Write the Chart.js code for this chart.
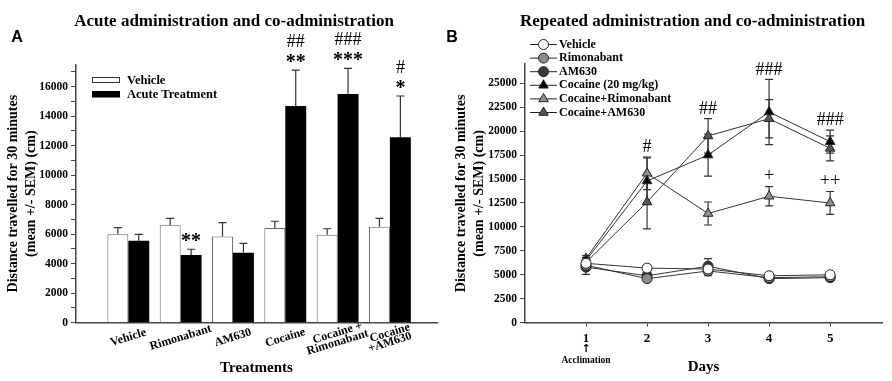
<!DOCTYPE html>
<html>
<head>
<meta charset="utf-8">
<script src="https://cdn.jsdelivr.net/npm/chart.js@4/dist/chart.umd.min.js"></script>
<style>
  body { margin: 0; background: #fff; }
  #wrap { position: relative; width: 892px; height: 381px; }
  .box { position: absolute; top: 0; width: 446px; height: 381px; }
  #boxA { left: 0; }
  #boxB { left: 446px; }
</style>
</head>
<body>
<div id="wrap">
  <div class="box" id="boxA"><canvas id="chartA"></canvas></div>
  <div class="box" id="boxB"><canvas id="chartB"></canvas></div>
</div>
<script>
// Panel A - acute administration (bars)
const treatments = ['Vehicle', 'Rimonabant', 'AM630', 'Cocaine', ['Cocaine +', 'Rimonabant'], ['Cocaine', '+AM630']];
const treatmentPos = [1, 2, 3, 4, 5, 6];
const vehicleMeans = [6000, 6600, 5850, 6420, 5970, 6510];
const vehicleSem = [440, 480, 930, 460, 400, 570];
const acuteMeans = [5560, 4590, 4750, 14690, 15500, 12570];
const acuteSem = [430, 390, 630, 2440, 1750, 2800];
const acuteStars = ['', '**', '', '**', '***', '*'];
const acuteHash = ['', '', '', '##', '###', '#'];
const yTicksA = [0, 1000, 2000, 3000, 4000, 5000, 6000, 7000, 8000, 9000, 10000,
  11000, 12000, 13000, 14000, 15000, 16000, 17000];

// Panel B - repeated administration (lines)
const days = [1, 2, 3, 4, 5];
const seriesNames = ['Vehicle', 'Rimonabant', 'AM630', 'Cocaine (20 mg/kg)', 'Cocaine+Rimonabant', 'Cocaine+AM630'];
const vehicleB = [6200, 5700, 5600, 4900, 5000];
const vehicleBSem = [400, 350, 400, 300, 300];
const rimonabantB = [6000, 4600, 5400, 4700, 4800];
const rimonabantBSem = [400, 300, 500, 300, 300];
const am630B = [5800, 4900, 5900, 4600, 4700];
const am630BSem = [750, 400, 800, 300, 300];
const cocaineB = [6500, 14800, 17500, 22000, 18900];
const cocaineBSem = [300, 2400, 2200, 3400, 1200];
const cocRimB = [6700, 15600, 11400, 13200, 12500];
const cocRimBSem = [300, 1700, 1200, 1000, 1200];
const cocAmB = [6300, 12600, 19500, 21300, 18200];
const cocAmBSem = [300, 2800, 1800, 2000, 1300];
const hashB = ['', '#', '##', '###', '###'];
const plusB = ['', '', '', '+', '++'];
const yTicksB = [0, 2500, 5000, 7500, 10000, 12500, 15000, 17500, 20000, 22500, 25000];

const serif = "'Liberation Serif', 'Times New Roman', serif";
const axisColor = '#444';

// ---------- Panel A ----------
const panelAText = {
  id: 'panelAText',
  afterDatasetsDraw(chart) {
    const ctx = chart.ctx;
    const ys = chart.scales.y;
    ctx.save();
    // error bars (upper only)
    ctx.strokeStyle = '#333';
    ctx.lineWidth = 1.2;
    [vehicleSem, acuteSem].forEach((sem, d) => {
      chart.getDatasetMeta(d).data.forEach((bar, i) => {
        const top = ys.getPixelForValue(chart.data.datasets[d].data[i].y + sem[i]);
        ctx.beginPath();
        ctx.moveTo(bar.x, bar.y);
        ctx.lineTo(bar.x, top);
        ctx.moveTo(bar.x - 4, top);
        ctx.lineTo(bar.x + 4, top);
        ctx.stroke();
      });
    });
    // significance marks
    ctx.fillStyle = '#000';
    ctx.textAlign = 'center';
    chart.getDatasetMeta(1).data.forEach((bar, i) => {
      const top = ys.getPixelForValue(acuteMeans[i] + acuteSem[i]);
      ctx.font = 'bold 20px ' + serif;
      ctx.textBaseline = 'alphabetic';
      ctx.fillText(acuteStars[i], bar.x, top - 12 + 9.5);
      ctx.font = '18px ' + serif;
      ctx.textBaseline = 'middle';
      ctx.fillText(acuteHash[i], bar.x, top - 28);
    });
    ctx.restore();
  },
  afterDraw(chart) {
    const ctx = chart.ctx;
    const xs = chart.scales.x;
    const area = chart.chartArea;
    ctx.save();
    ctx.fillStyle = '#000';
    // rotated category labels centred on each group, lines stacked vertically
    ctx.font = 'bold 12px ' + serif;
    ctx.textAlign = 'center';
    ctx.textBaseline = 'middle';
    treatments.forEach((t, i) => {
      const lines = Array.isArray(t) ? t : [t];
      lines.forEach((ln, k) => {
        ctx.save();
        ctx.translate(xs.getPixelForValue(treatmentPos[i]), area.bottom + 15 + (k - (lines.length - 1) / 2) * 9.5);
        ctx.rotate(-17 * Math.PI / 180);
        ctx.fillText(ln, 0, 0);
        ctx.restore();
      });
    });
    // legend
    const lx = area.left + 16;
    ctx.lineWidth = 1;
    ctx.strokeStyle = '#333';
    ctx.fillStyle = '#fff';
    ctx.fillRect(lx, 77, 28, 6);
    ctx.strokeRect(lx + 0.5, 77.5, 27, 5);
    ctx.fillStyle = '#000';
    ctx.fillRect(lx, 91, 28, 6.5);
    ctx.font = 'bold 12.5px ' + serif;
    ctx.textAlign = 'left';
    ctx.fillText('Vehicle', lx + 35, 80.5);
    ctx.fillText('Acute Treatment', lx + 35, 94.5);
    // title and panel letter
    ctx.font = 'bold 17px ' + serif;
    ctx.textAlign = 'center';
    ctx.fillText('Acute administration and co-administration', 234, 22);
    ctx.font = 'bold 16px "Liberation Sans", Arial, sans-serif';
    ctx.fillText('A', 17, 38);
    ctx.restore();
  }
};

new Chart(document.getElementById('chartA'), {
  type: 'bar',
  data: {
    datasets: [{
      label: 'Vehicle',
      data: vehicleMeans.map((v, i) => ({ x: treatmentPos[i], y: v })),
      backgroundColor: '#fff',
      borderColor: '#666',
      borderWidth: 1,
      borderSkipped: 'bottom'
    }, {
      label: 'Acute Treatment',
      data: acuteMeans.map((v, i) => ({ x: treatmentPos[i], y: v })),
      backgroundColor: '#000',
      borderColor: '#000',
      borderWidth: 0
    }]
  },
  options: {
    responsive: true,
    maintainAspectRatio: false,
    animation: false,
    categoryPercentage: 0.8,
    barPercentage: 1.0,
    layout: { padding: { left: 0, right: 9, top: 64.6, bottom: 0 } },
    plugins: { legend: { display: false }, tooltip: { enabled: false } },
    scales: {
      x: {
        type: 'linear',
        min: 0,
        max: 6.9,
        offset: false,
        afterBuildTicks(scale) { scale.ticks = treatmentPos.map(v => ({ value: v })); },
        ticks: { display: false },
        grid: { display: false, offset: false },
        border: { color: axisColor, width: 1.5 },
        title: {
          display: true,
          text: 'Treatments',
          color: '#000',
          font: { family: serif, size: 15, weight: 'bold' },
          padding: { top: 0, bottom: 4 }
        },
        afterFit(scale) { scale.height = 58.3; }
      },
      y: {
        min: 0,
        max: 17500,
        afterBuildTicks(scale) { scale.ticks = yTicksA.map(v => ({ value: v })); },
        ticks: {
          autoSkip: false,
          color: '#000',
          padding: 3,
          font: { family: serif, size: 11.5, weight: 'bold' },
          callback: v => (v % 2000 === 0) ? String(v) : ''
        },
        grid: { drawOnChartArea: false, tickLength: 5, tickColor: axisColor },
        border: { color: axisColor, width: 1.5 },
        title: {
          display: true,
          text: ['Distance travelled for 30 minutes', '(mean +/- SEM) (cm)'],
          color: '#000',
          font: { family: serif, size: 14, weight: 'bold', lineHeight: 1.35 },
          padding: { top: 3.5, bottom: 0 }
        },
        afterFit(scale) { scale.width = 76; }
      }
    }
  },
  plugins: [panelAText]
});

// ---------- Panel B ----------
const lineMeans = [vehicleB, rimonabantB, am630B, cocaineB, cocRimB, cocAmB];
const lineSems = [vehicleBSem, rimonabantBSem, am630BSem, cocaineBSem, cocRimBSem, cocAmBSem];
const fills = ['#fff', '#8c8c8c', '#3a3a3a', '#000', '#8f8f8f', '#555'];
const shapes = ['circle', 'circle', 'circle', 'triangle', 'triangle', 'triangle'];

const panelBText = {
  id: 'panelBText',
  beforeDatasetsDraw(chart) {
    const ctx = chart.ctx;
    const ys = chart.scales.y;
    ctx.save();
    ctx.strokeStyle = '#333';
    ctx.lineWidth = 1.2;
    lineMeans.forEach((vals, d) => {
      chart.getDatasetMeta(d).data.forEach((pt, i) => {
        const hi = ys.getPixelForValue(vals[i] + lineSems[d][i]);
        const lo = ys.getPixelForValue(vals[i] - lineSems[d][i]);
        ctx.beginPath();
        ctx.moveTo(pt.x, lo);
        ctx.lineTo(pt.x, hi);
        ctx.moveTo(pt.x - 4, hi);
        ctx.lineTo(pt.x + 4, hi);
        ctx.moveTo(pt.x - 4, lo);
        ctx.lineTo(pt.x + 4, lo);
        ctx.stroke();
      });
    });
    ctx.restore();
  },
  afterDraw(chart) {
    const ctx = chart.ctx;
    const xs = chart.scales.x;
    const ys = chart.scales.y;
    const area = chart.chartArea;
    ctx.save();
    ctx.fillStyle = '#000';
    ctx.textAlign = 'center';
    ctx.textBaseline = 'middle';
    // significance marks
    ctx.font = '18px ' + serif;
    days.forEach((d, i) => {
      const x = xs.getPixelForValue(d);
      const topCoc = Math.max(cocaineB[i] + cocaineBSem[i], cocRimB[i] + cocRimBSem[i], cocAmB[i] + cocAmBSem[i]);
      ctx.fillText(hashB[i], x, ys.getPixelForValue(topCoc) - 9.5);
      ctx.fillText(plusB[i], x, ys.getPixelForValue(cocRimB[i] + cocRimBSem[i]) - 10);
    });
    // acclimation note under day 1
    const x1 = xs.getPixelForValue(days[0]);
    ctx.font = 'bold 11px "DejaVu Sans", sans-serif';
    ctx.fillText('\u2191', x1, 349);
    ctx.font = 'bold 9.5px ' + serif;
    ctx.fillText('Acclimation', x1, 361);
    // legend
    const lx = area.left + 5;
    ctx.font = 'bold 12px ' + serif;
    seriesNames.forEach((name, k) => {
      const y = 44.5 + k * 13.6;
      ctx.strokeStyle = '#222';
      ctx.lineWidth = 1;
      ctx.beginPath();
      ctx.moveTo(lx, y);
      ctx.lineTo(lx + 27, y);
      ctx.stroke();
      ctx.fillStyle = fills[k];
      Chart.helpers.drawPoint(ctx, {
        pointStyle: shapes[k],
        radius: shapes[k] === 'circle' ? 5 : 5.5,
        rotation: 0,
        borderWidth: 1
      }, lx + 13.5, y);
      ctx.fillStyle = '#000';
      ctx.textAlign = 'left';
      ctx.fillText(name, lx + 29, y);
    });
    // title and panel letter
    ctx.textAlign = 'center';
    ctx.font = 'bold 17px ' + serif;
    ctx.fillText('Repeated administration and co-administration', 246.5, 22);
    ctx.font = 'bold 16px "Liberation Sans", Arial, sans-serif';
    ctx.fillText('B', 6, 37.5);
    ctx.restore();
  }
};

new Chart(document.getElementById('chartB'), {
  type: 'line',
  data: {
    datasets: lineMeans.map((vals, d) => ({
      label: seriesNames[d],
      data: days.map((day, i) => ({ x: day, y: vals[i] })),
      borderColor: '#333',
      borderWidth: 1,
      backgroundColor: fills[d],
      pointBackgroundColor: fills[d],
      pointBorderColor: '#222',
      pointBorderWidth: 1,
      pointStyle: shapes[d],
      pointRadius: shapes[d] === 'circle' ? 5 : 5.5,
      tension: 0,
      fill: false
    }))
  },
  options: {
    responsive: true,
    maintainAspectRatio: false,
    animation: false,
    layout: { padding: { left: 0, right: 10, top: 64.1, bottom: 0 } },
    plugins: { legend: { display: false }, tooltip: { enabled: false } },
    scales: {
      x: {
        type: 'linear',
        min: 0,
        max: 5.85,
        afterBuildTicks(scale) { scale.ticks = days.map(v => ({ value: v })); },
        ticks: {
          autoSkip: false,
          maxRotation: 0,
          color: '#000',
          padding: 4,
          font: { family: serif, size: 13, weight: 'bold' },
          callback: v => String(v)
        },
        grid: { drawOnChartArea: false, tickLength: 4, tickColor: axisColor },
        border: { color: axisColor, width: 1.5 },
        title: {
          display: true,
          text: 'Days',
          color: '#000',
          font: { family: serif, size: 15, weight: 'bold' },
          padding: { top: 0, bottom: 5 }
        },
        afterFit(scale) { scale.height = 58.3; }
      },
      y: {
        min: 0,
        max: 27000,
        afterBuildTicks(scale) { scale.ticks = yTicksB.map(v => ({ value: v })); },
        ticks: {
          autoSkip: false,
          color: '#000',
          padding: 3,
          font: { family: serif, size: 11.5, weight: 'bold' },
          callback: v => String(v)
        },
        grid: { drawOnChartArea: false, tickLength: 5, tickColor: axisColor },
        border: { color: axisColor, width: 1.5 },
        title: {
          display: true,
          text: ['Distance travelled for 30 minutes', '(mean +/- SEM) (cm)'],
          color: '#000',
          font: { family: serif, size: 14, weight: 'bold', lineHeight: 1.35 },
          padding: { top: 5.5, bottom: 0 }
        },
        afterFit(scale) { scale.width = 79; }
      }
    }
  },
  plugins: [panelBText]
});
</script>
</body>
</html>
